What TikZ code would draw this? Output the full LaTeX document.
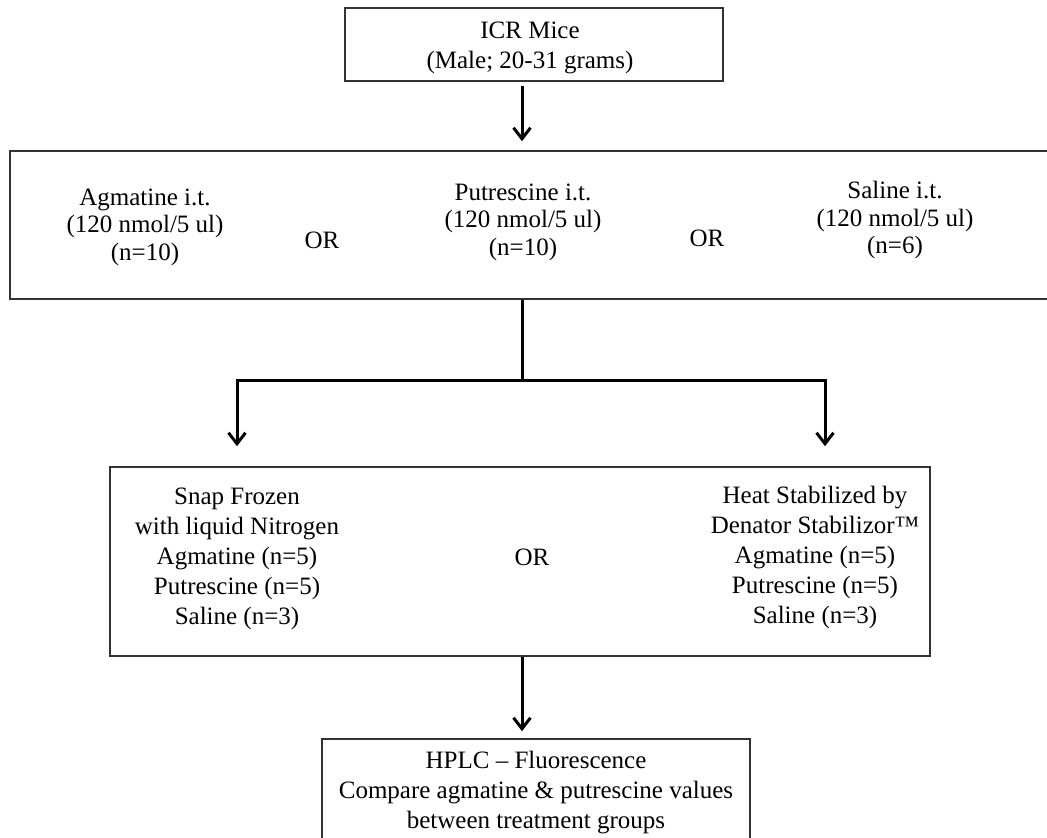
\documentclass[tikz,border=0pt]{standalone}
\usepackage{fontspec}
\setmainfont{Liberation Serif}
\usetikzlibrary{arrows.meta}
\begin{document}
\begin{tikzpicture}[x=1pt,y=-1pt,
  box/.style={draw=black!80,line width=1.6pt,rectangle,inner sep=0pt},
  txt/.style={align=center,font=\fontsize{25}{30}\selectfont,inner sep=0pt},
  txtb/.style={align=center,font=\fontsize{25}{27.5}\selectfont,inner sep=0pt},
  arr/.style={line width=3pt,line join=miter,-{Straight Barb[length=11pt,width=17pt]}},
  conn/.style={line width=3pt}]
\useasboundingbox (0,0) rectangle (1047,838);
\clip (0,0) rectangle (1047,838);
% boxes
\node[box,minimum width=378pt,minimum height=73pt] (b1) at (534,44.5) {};
\node[box,minimum width=1042pt,minimum height=148pt] (b2) at (531,225) {};
\node[box,minimum width=820pt,minimum height=189pt] (b3) at (520,561.5) {};
\node[box,minimum width=428pt,minimum height=111pt] (b4) at (536,794.5) {};
% texts
\node[txt] (t1) at (530,47.5) {ICR Mice\\(Male; 20-31 grams)};
\node[txtb] (t2a) at (145,227) {Agmatine i.t.\\(120 nmol/5 ul)\\(n=10)};
\node[txtb] (or1) at (322,240) {OR};
\node[txtb] (t2b) at (523,222) {Putrescine i.t.\\(120 nmol/5 ul)\\(n=10)};
\node[txtb] (or2) at (707,238) {OR};
\node[txtb] (t2c) at (895,220) {Saline i.t.\\(120 nmol/5 ul)\\(n=6)};
\node[txt] (t3a) at (237,559) {Snap Frozen\\with liquid Nitrogen\\Agmatine (n=5)\\Putrescine (n=5)\\Saline (n=3)};
\node[txt] (or3) at (532,557) {OR};
\node[txt] (t3b) at (815,557.5) {Heat Stabilized by\\Denator Stabilizor™\\Agmatine (n=5)\\Putrescine (n=5)\\Saline (n=3)};
\node[txt] (t4) at (536,793) {HPLC – Fluorescence\\Compare agmatine \& putrescine values\\between treatment groups};
% connectors
\coordinate (xa) at (522,0);
\coordinate (jl) at (237,380);
\coordinate (jr) at (825,380);
\draw[arr] ([yshift=-4pt]b1.south -| xa) -- ([yshift=9pt]b2.north -| xa);
\draw[conn] (b2.south -| xa) -- (xa |- jl);
\draw[arr] (xa |- jl) -- (jl) -- ([yshift=20pt]b3.north -| jl);
\draw[arr] (xa |- jr) -- (jr) -- ([yshift=20pt]b3.north -| jr);
\draw[arr] (b3.south -| xa) -- ([yshift=7pt]b4.north -| xa);
\end{tikzpicture}
\end{document}
